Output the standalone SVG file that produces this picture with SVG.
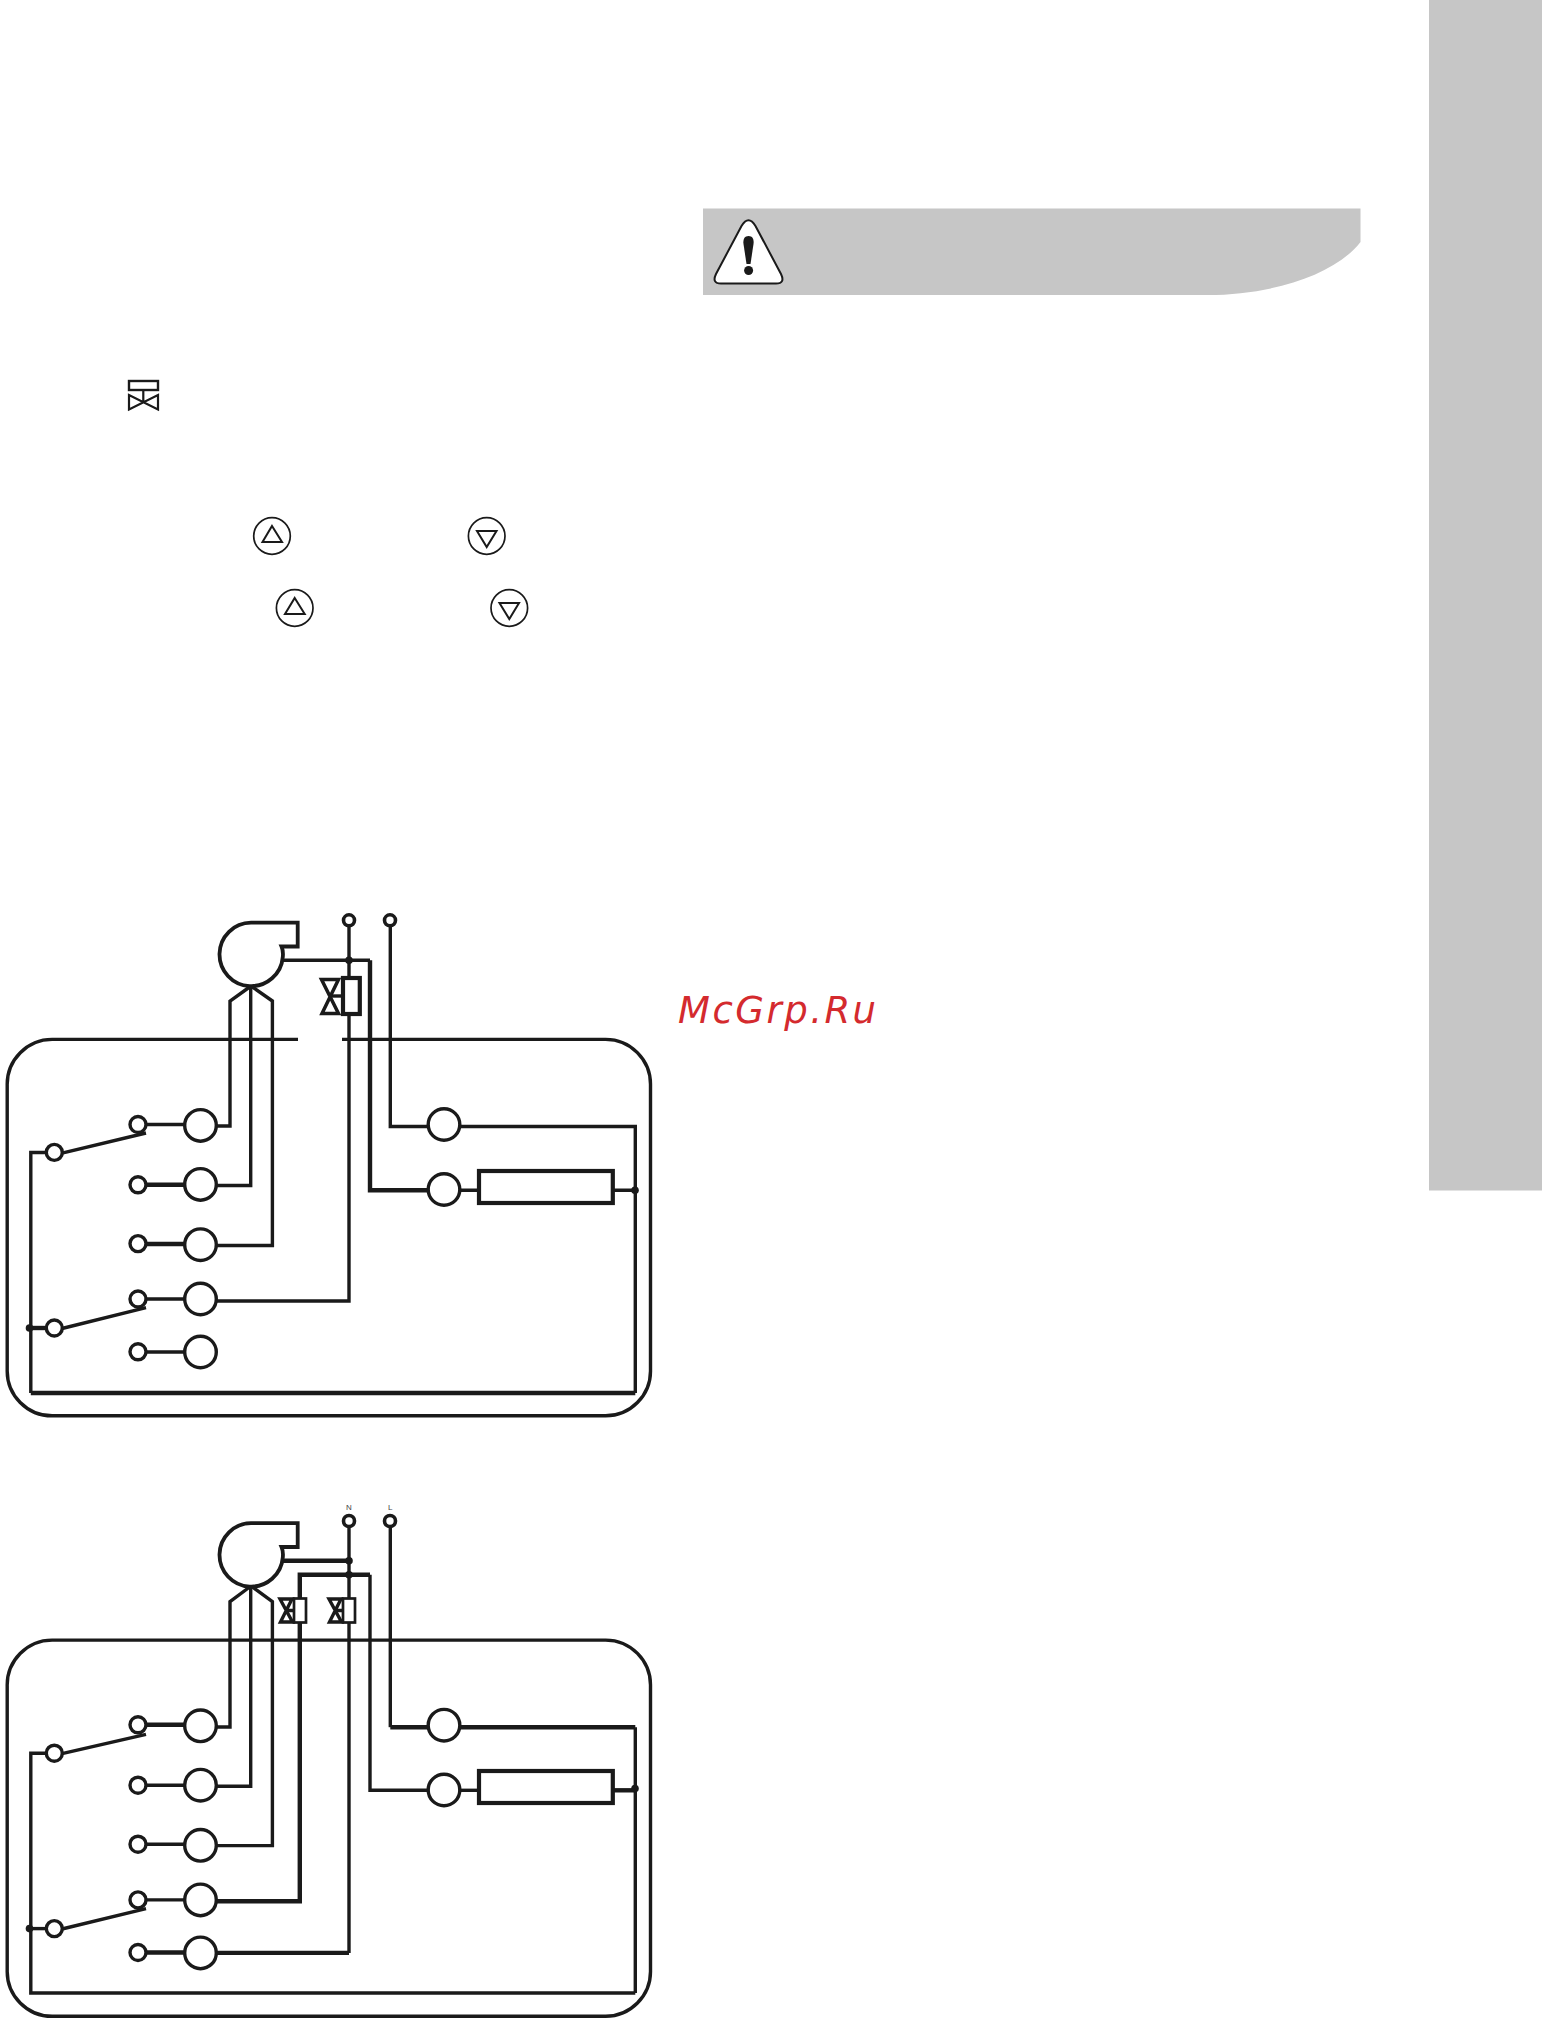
<svg xmlns="http://www.w3.org/2000/svg" width="1542" height="2019" viewBox="0 0 1542 2019">
<style>
.w{fill:none;stroke:#1a1a1a;stroke-width:3.4;stroke-linejoin:miter}
.h{fill:none;stroke:#1a1a1a;stroke-width:4.4}
.n{fill:#fff;stroke:#1a1a1a;stroke-width:3.4}
.t{fill:#fff;stroke:#1a1a1a;stroke-width:3.6}
.o{fill:#fff;stroke:#1a1a1a;stroke-width:4.2}
.d{fill:#1a1a1a}
.k{fill:none;stroke:#1a1a1a;stroke-width:2}
.g{fill:#c6c6c6}
.lb{font-family:"Liberation Sans",Arial,sans-serif;font-size:8px;fill:#444;text-anchor:middle}
</style>
<defs>
<g id="ring"><circle r="18.3" fill="none" stroke="#1a1a1a" stroke-width="1.7"/></g>
<path id="blower" d="M251 922.7H297.7V946.5H281.5C283.5 951 283 955 282.8 957A31.7 31.700 0 1 1 251 922.7Z" fill="#fff" stroke="#1a1a1a" stroke-width="3.800"/>
</defs>

<g id="sidebar"><rect class="g" x="1429" y="0" width="113" height="1190.500"/></g>
<g id="warning-band"><path class="g" d="M703 208.500H1360.500V242C1335 275 1270 296 1203 295H703Z"/></g>
<g id="warning-icon">
<path d="M741.500 226Q748.500 214.500 755.500 226L781 274Q785.500 283.500 776 283.500H721Q711.500 283.500 716 274Z" fill="#fff" stroke="#1a1a1a" stroke-width="2"/>
<path class="d" d="M748.600 236C753 236 754 240 753.500 244L750.500 264H746.500L743.500 244C743 240 744 236 748.600 236Z"/>
<ellipse class="d" cx="748.600" cy="270.500" rx="4.500" ry="4.500"/>
</g>
<g id="legend-valve">
<rect class="k" x="129" y="381" width="29" height="9" style="stroke-width:2.400"/>
<path class="k" d="M143.300 390V402M129 395V409.500L158 395V409.500Z" style="stroke-width:2.200"/>
</g>
<g id="btn-up-1"><use href="#ring" x="272" y="536"/><path class="k" d="M272 526L282 542H262.500Z"/></g>
<g id="btn-down-1"><use href="#ring" x="486.700" y="536"/><path class="k" d="M477 531H496.500L486.700 547Z"/></g>
<g id="btn-up-2"><use href="#ring" x="294.700" y="608"/><path class="k" d="M294.700 598L304.700 614H285Z"/></g>
<g id="btn-down-2"><use href="#ring" x="509.300" y="608"/><path class="k" d="M499.500 603H519L509.300 619Z"/></g>
<g id="watermark"><text x="678" y="1023" font-family="DejaVu Sans, sans-serif" font-style="italic" font-size="37" letter-spacing="2.500" fill="#d42a2e">McGrp.Ru</text></g>

<g id="diagram-top">
<g id="connectors-top">
<path class="w" d="M298 1039.400H52.500A45 45 0 0 0 7.200 1085V1370A45 45 0 0 0 52.500 1415.800H605A45 45 0 0 0 650.500 1370V1085A45 45 0 0 0 605 1039.400H342"/>
<path class="w" d="M251 986L230 1001V1126H216"/>
<path class="w" d="M250.700 986V1185.500H216"/>
<path class="w" d="M251 986L272.400 1001V1245.500H216"/>
<path class="w" d="M349 927V1301H216"/>
<path class="w" d="M283 960.300H370"/>
<path class="h" d="M370 960.300V1190.300H428"/>
<path class="w" d="M390.300 927V1126.500H428"/>
<path class="w" d="M460 1126.500H635.300V1393"/>
<path class="h" d="M635.300 1393H30.800"/>
<path class="w" d="M30.800 1393V1152.500H46"/>
<path class="h" d="M29.500 1328H46"/>
<path class="w" d="M146 1124.500H184M146 1299H184M146 1352H184"/>
<path class="h" d="M146 1184.800H184M146 1244H184"/>
<path class="w" d="M62 1153.200L146 1133M62 1328.500L146 1307.700"/>
<path class="w" d="M460 1190.300H478M613 1190.300H635"/>
<path class="w" d="M330.500 996H342"/>
<circle class="d" cx="349" cy="960.300" r="3.800"/>
<circle class="d" cx="635" cy="1190.300" r="3.800"/>
<circle class="d" cx="29.500" cy="1328" r="3.800"/>
</g>
<g id="t-blower"><use href="#blower"/></g>
<g id="t-solenoid"><path class="h" d="M321.500 979.500H338.500L322 1013.500H338.500Z" style="stroke-width:3.500"/><rect class="o" x="343" y="978" width="16.800" height="36"/></g>
<g id="t-term-n"><circle class="t" cx="349" cy="920.300" r="5.500"/></g>
<g id="t-term-l"><circle class="t" cx="390" cy="920.300" r="5.500"/></g>
<g id="t-pivot-1"><circle class="n" cx="54.300" cy="1152.400" r="8"/></g>
<g id="t-pivot-2"><circle class="n" cx="54.300" cy="1328" r="8"/></g>
<g id="t-s1"><circle class="n" cx="138" cy="1124.500" r="8"/></g>
<g id="t-s2"><circle class="n" cx="138" cy="1184.800" r="8"/></g>
<g id="t-s3"><circle class="n" cx="138" cy="1243.600" r="8"/></g>
<g id="t-s4"><circle class="n" cx="138" cy="1299" r="8"/></g>
<g id="t-s5"><circle class="n" cx="138" cy="1351.800" r="8"/></g>
<g id="t-a1"><circle class="n" cx="200.500" cy="1125.400" r="15.800"/></g>
<g id="t-a2"><circle class="n" cx="200.500" cy="1184.400" r="15.800"/></g>
<g id="t-a3"><circle class="n" cx="200.500" cy="1244.700" r="15.800"/></g>
<g id="t-a4"><circle class="n" cx="200.500" cy="1299" r="15.800"/></g>
<g id="t-a5"><circle class="n" cx="200.500" cy="1352" r="15.800"/></g>
<g id="t-r1"><circle class="n" cx="444" cy="1124.500" r="15.800"/></g>
<g id="t-r2"><circle class="n" cx="444" cy="1189.500" r="15.800"/></g>
<g id="t-heater"><rect class="o" x="479" y="1171" width="133.800" height="32"/></g>
</g>

<g id="diagram-bottom">
<g id="connectors-bottom">
<path class="w" d="M7.200 1686A45 45 0 0 1 52.500 1640.100H605A45 45 0 0 1 650.500 1686V1970.500A45 45 0 0 1 605 2016.300H52.500A45 45 0 0 1 7.200 1970.500Z"/>
<path class="w" d="M251 1586L230 1601.700V1727H216"/>
<path class="w" d="M250.700 1586V1786.200H216"/>
<path class="w" d="M251 1586L272.400 1601.700V1845.600H216"/>
<path class="h" d="M216 1901.300H299.800V1574.700H370"/>
<path class="w" d="M349 1527V1952.900"/>
<path class="h" d="M349 1952.900H216"/>
<path class="h" d="M283 1560.700H349"/>
<path class="w" d="M370 1574.700V1790.300H428"/>
<path class="w" d="M390.300 1527V1727.200"/>
<path class="h" d="M390.300 1727.200H428M460 1727.200H635.300"/>
<path class="w" d="M635.300 1727.200V1993"/>
<path class="w" d="M635.300 1993H30.800V1753.200H46"/>
<path class="w" d="M29.500 1928.600H46"/>
<path class="h" d="M146 1724.800H184M146 1952.500H184"/>
<path class="w" d="M146 1785.200H184M146 1844.200H184M146 1899.900H184"/>
<path class="w" d="M62 1753.700L146 1734.300M62 1929L146 1908.700"/>
<path class="w" d="M460 1790.300H478"/>
<path class="h" d="M613 1790.300H635"/>
<path class="w" d="M285 1610.500H294M334 1610.500H343"/>
<circle class="d" cx="349" cy="1560.700" r="3.800"/>
<circle class="d" cx="349" cy="1574.700" r="3.800"/>
<circle class="d" cx="635" cy="1788.600" r="3.800"/>
<circle class="d" cx="29.500" cy="1928.600" r="3.800"/>
</g>
<g id="b-blower"><use href="#blower" y="600.500"/></g>
<g id="b-solenoid-1"><path class="w" d="M280 1599H292L280.500 1622H292.500Z"/><rect class="n" x="294" y="1598.500" width="12" height="24" style="stroke-width:2.700"/></g>
<g id="b-solenoid-2"><path class="w" d="M329 1599H341L329.500 1622H341.500Z"/><rect class="n" x="343" y="1598.500" width="12" height="24" style="stroke-width:2.700"/></g>
<g id="b-term-n"><circle class="t" cx="349" cy="1521" r="5.500"/><text class="lb" x="349" y="1509.500">N</text></g>
<g id="b-term-l"><circle class="t" cx="390" cy="1521" r="5.500"/><text class="lb" x="390.300" y="1509.500">L</text></g>
<g id="b-pivot-1"><circle class="n" cx="54.300" cy="1753.200" r="8"/></g>
<g id="b-pivot-2"><circle class="n" cx="54.300" cy="1928.600" r="8"/></g>
<g id="b-s1"><circle class="n" cx="138" cy="1724.800" r="8"/></g>
<g id="b-s2"><circle class="n" cx="138" cy="1785.200" r="8"/></g>
<g id="b-s3"><circle class="n" cx="138" cy="1844.200" r="8"/></g>
<g id="b-s4"><circle class="n" cx="138" cy="1899.900" r="8"/></g>
<g id="b-s5"><circle class="n" cx="138" cy="1952.500" r="8"/></g>
<g id="b-a1"><circle class="n" cx="200.500" cy="1725.800" r="15.800"/></g>
<g id="b-a2"><circle class="n" cx="200.500" cy="1785.200" r="15.800"/></g>
<g id="b-a3"><circle class="n" cx="200.500" cy="1845.300" r="15.800"/></g>
<g id="b-a4"><circle class="n" cx="200.500" cy="1899.900" r="15.800"/></g>
<g id="b-a5"><circle class="n" cx="200.500" cy="1952.900" r="15.800"/></g>
<g id="b-r1"><circle class="n" cx="444" cy="1725.200" r="15.800"/></g>
<g id="b-r2"><circle class="n" cx="444" cy="1790" r="15.800"/></g>
<g id="b-heater"><rect class="o" x="479" y="1771" width="133.800" height="32"/></g>
</g>
</svg>
